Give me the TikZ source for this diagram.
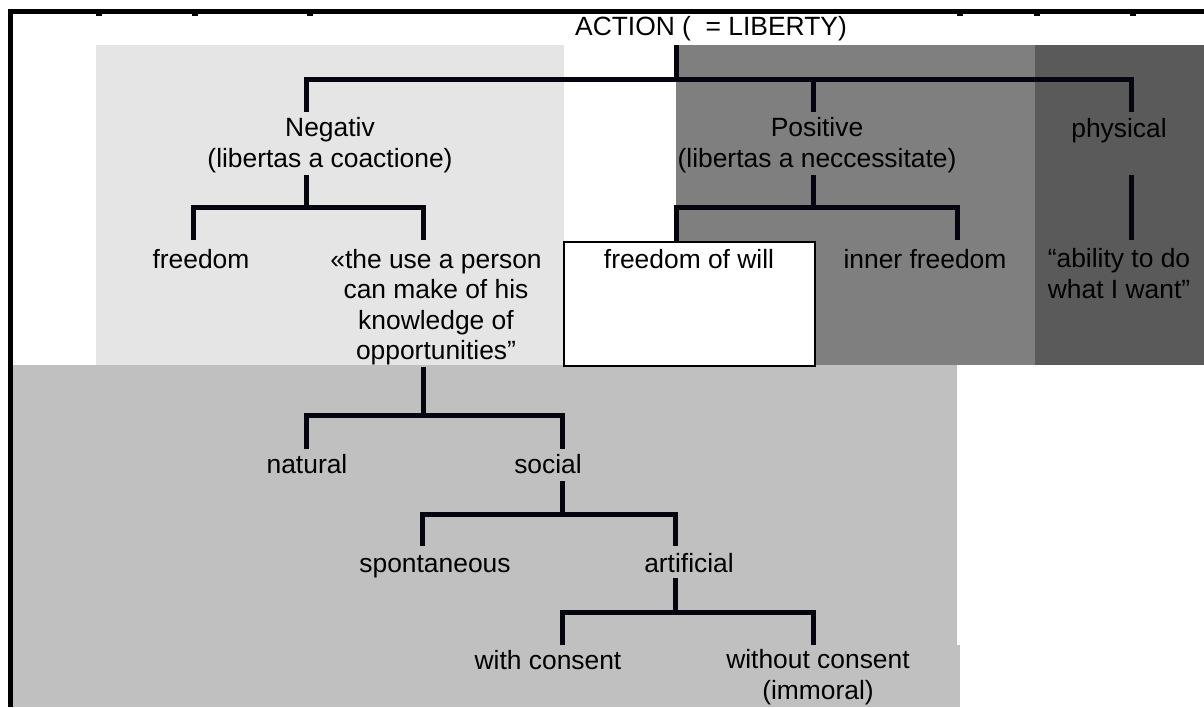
\documentclass[tikz,border=0pt]{standalone}
\usepackage{fontspec}
\setmainfont{Liberation Sans}
\definecolor{lightpanel}{HTML}{E5E5E5}
\definecolor{midpanel}{HTML}{7F7F7F}
\definecolor{darkpanel}{HTML}{5A5A5A}
\definecolor{lowpanel}{HTML}{C0C0C0}
\definecolor{inkline}{HTML}{05050F}
\begin{document}
\begin{tikzpicture}[x=0.5pt,y=-0.5pt,
  treeline/.style={draw=inkline, line width=2.5pt, line join=miter},
  frameline/.style={draw=black, line width=2.5pt, line join=miter},
  lbl/.style={font=\fontsize{13.2}{15.25}\selectfont, align=center, inner sep=0pt, anchor=base, text=black},
  tick/.style={fill=black, draw=none}]
\useasboundingbox (0,0) rectangle (1204,707);

% background panels
\fill[lightpanel] (96,45) rectangle (564,365);
\fill[midpanel] (676,45) rectangle (1035,365);
\fill[darkpanel] (1035,45) rectangle (1204,365);
\fill[lowpanel] (12,365) rectangle (957,645);
\fill[lowpanel] (12,645) rectangle (960,707);
\draw[fill=white, draw=black, line width=1pt] (564,242) rectangle (815,366);

% outer frame and its ruler ticks
\draw[frameline] (10,707) -- (10,11.5) -- (1204,11.5);
\foreach \tx in {99,195,310,960,1037,1133}
  \fill[tick] (\tx-3,13) rectangle (\tx+3,15.5);

% labels (multi-line labels sit on the baseline of their last line)
\node[lbl] (root) at (711,35) {ACTION (\ \ = LIBERTY)};
\node[lbl] (neg) at (330,167) {Negativ\\(libertas a coactione)};
\node[lbl] (pos) at (817,167) {Positive\\(libertas a neccessitate)};
\node[lbl] (phys) at (1119,137) {physical};
\node[lbl] (free) at (201,268) {freedom};
\node[lbl] (quote) at (436,359.5) {«the use a person\\can make of his\\knowledge of\\opportunities”};
\node[lbl] (will) at (689,268) {freedom of will};
\node[lbl] (inner) at (925,268) {inner freedom};
\node[lbl] (able) at (1119,298) {“ability to do\\what I want”};
\node[lbl] (nat) at (307,473) {natural};
\node[lbl] (soc) at (548,473) {social};
\node[lbl] (spon) at (435,572) {spontaneous};
\node[lbl] (art) at (689,572) {artificial};
\node[lbl] (with) at (548,669) {with consent};
\node[lbl] (without) at (818,699) {without consent\\(immoral)};

% connector end points
\coordinate (root-out) at (676,45);
\coordinate (bus0) at (676,79);
\coordinate (neg-in) at (306,112);
\coordinate (pos-in) at (813,112);
\coordinate (phys-in) at (1131,112);
\coordinate (neg-out) at (306,175);
\coordinate (free-in) at (193,240);
\coordinate (quote-in) at (423,240);
\coordinate (pos-out) at (813,175);
\coordinate (will-in) at (676,242);
\coordinate (inner-in) at (957,240);
\coordinate (phys-out) at (1131,175);
\coordinate (able-in) at (1131,240);
\coordinate (quote-out) at (423,367);
\coordinate (nat-in) at (306,449);
\coordinate (soc-in) at (562,449);
\coordinate (soc-out) at (562,481);
\coordinate (spon-in) at (422,546);
\coordinate (art-in) at (675,546);
\coordinate (art-out) at (675,578);
\coordinate (with-in) at (562,645);
\coordinate (without-in) at (813,645);

% connectors
\draw[treeline] (root-out) -- (bus0);
\draw[treeline] (neg-in) |- (bus0) -| (phys-in);
\draw[treeline] (pos-in) -- (pos-in |- bus0);

\draw[treeline] (neg-out) -- (neg-out |- 0,207);
\draw[treeline] (free-in) |- (quote-in |- 0,207) -- (quote-in);

\draw[treeline] (pos-out) -- (pos-out |- 0,207);
\draw[treeline] (will-in) |- (inner-in |- 0,207) -- (inner-in);

\draw[treeline] (phys-out) -- (able-in);

\draw[treeline] (quote-out) -- (quote-out |- 0,415);
\draw[treeline] (nat-in) |- (soc-in |- 0,415) -- (soc-in);

\draw[treeline] (soc-out) -- (soc-out |- 0,514);
\draw[treeline] (spon-in) |- (art-in |- 0,514) -- (art-in);

\draw[treeline] (art-out) -- (art-out |- 0,612);
\draw[treeline] (with-in) |- (without-in |- 0,612) -- (without-in);
\end{tikzpicture}
\end{document}
